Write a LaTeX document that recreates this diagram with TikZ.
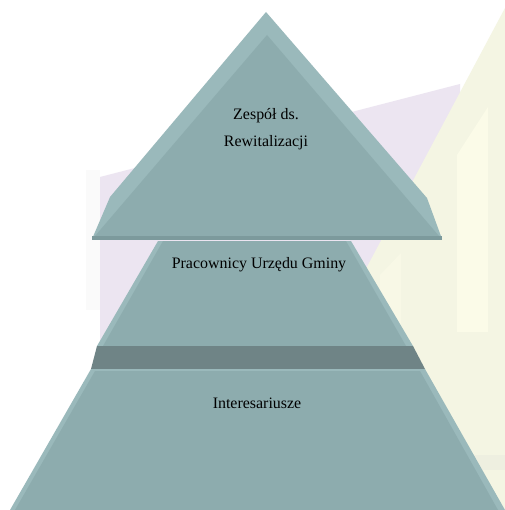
\documentclass[tikz,border=0pt]{standalone}
\usepackage{fontspec}
\setmainfont{Liberation Serif}
\definecolor{face}{HTML}{8DACAE}
\definecolor{bevel}{HTML}{9AB9BB}
\definecolor{edge}{HTML}{7C9A9C}
\definecolor{band}{HTML}{6F8486}
\definecolor{wmpurple}{HTML}{ECE5F1}
\definecolor{wmyellow}{HTML}{F4F5E3}
\definecolor{wmwin}{HTML}{FBFBE8}
\definecolor{wmwinb}{HTML}{F8F8E6}
\definecolor{wmband}{HTML}{EEEFE0}
\definecolor{wmgrey}{HTML}{FAFAFA}
\tikzset{
  lbl/.style={font=\fontsize{16}{27}\selectfont, text=black, align=center, inner sep=0pt},
}
\begin{document}
\begin{tikzpicture}[x=1bp,y=-1bp]
\useasboundingbox (0,0) rectangle (505,510);
\fill[white] (0,0) rectangle (505,510);
% faint watermark background
\fill[wmgrey] (86,170) rectangle (100,310);
\fill[wmpurple] (100,177) -- (460,84) -- (460,430) -- (100,430) -- cycle;
\fill[wmyellow] (505,8) -- (360,280) -- (348,300) -- (348,510) -- (505,510) -- cycle;
\fill[wmwin] (457,155) -- (488,107) -- (488,332) -- (457,332) -- cycle;
\fill[wmwinb] (380,275) -- (401,253) -- (401,332) -- (380,332) -- cycle;
\fill[wmband] (348,455) rectangle (505,470);
% top piece
\fill[bevel] (266,12) -- (110,197) -- (92,239) -- (442,239) -- (427,198) -- cycle;
\fill[face] (267,35) -- (95,236) -- (439,236) -- cycle;
\fill[edge] (92,236) rectangle (442,240);
% middle piece
\fill[bevel] (158,241) -- (351,241) -- (413,346) -- (97,346) -- cycle;
\fill[face] (163,241) -- (346,241) -- (406,346) -- (103,346) -- cycle;
% dark band
\fill[band] (97,346) -- (413,346) -- (425,369) -- (91,369) -- cycle;
% bottom piece
\fill[bevel] (91,369) -- (425,369) -- (505,510) -- (10,510) -- cycle;
\fill[face] (95,371) -- (420,371) -- (498,510) -- (15,510) -- cycle;
% labels
\node[lbl] (t1) at (266,129) {Zespół ds.\\Rewitalizacji};
\node[lbl] (t2) at (259,265) {Pracownicy Urzędu Gminy};
\node[lbl] (t3) at (257,403) {Interesariusze};
\end{tikzpicture}
\end{document}
